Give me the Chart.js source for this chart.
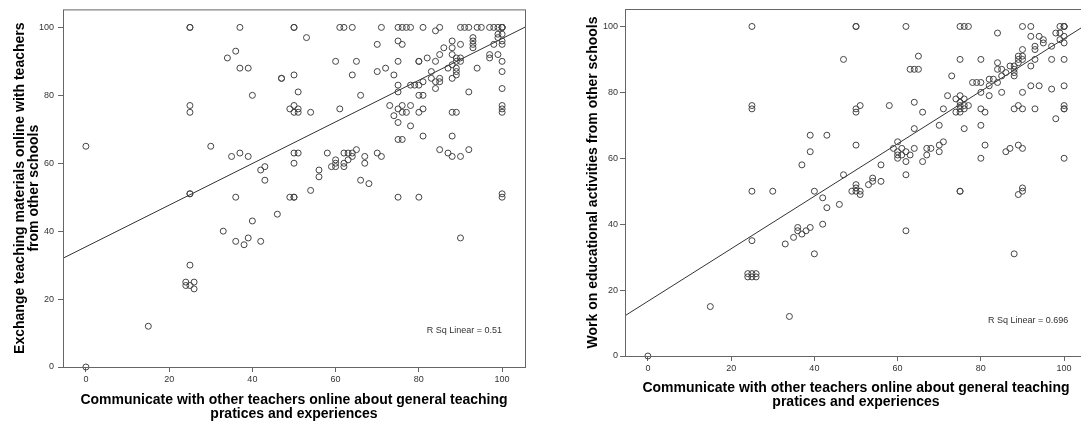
<!DOCTYPE html>
<html>
<head>
  <meta charset="utf-8">
  <title>Communicate vs exchange / work on activities</title>
  <style>
    html, body {
      margin: 0;
      padding: 0;
      background: #fff;
      overflow: hidden;
    }
    body {
      width: 1081px;
      height: 423px;
      position: relative;
    }
    canvas {
      position: absolute;
      top: 0;
    }
    #chartA { left: 0; }
    #chartB { left: 545px; }
  </style>
  <script src="https://cdn.jsdelivr.net/npm/chart.js@4"></script>
</head>
<body>
  <canvas id="chartA" width="545" height="423"></canvas>
  <canvas id="chartB" width="562" height="423"></canvas>

  <script>
    // axis setup
    const xMin = -5.5, xMax = 105.5;
    const yMin = 0, yMax = 105.3;
    const xTicks = [0, 20, 40, 60, 80, 100];
    const yTicks = [0, 20, 40, 60, 80, 100];

    const xTitle = ["Communicate with other teachers online about general teaching", "pratices and experiences"];
    const yTitleA = ["Exchange teaching materials online with teachers", "from other schools"];
    const yTitleB = "Work on educational activities from other schools";

    // left plot: communicate (x) vs exchange materials (y)
    const commA = [
      0, 0, 15,
      25, 25, 25, 25, 25, 25, 25,
      24, 24, 26, 25, 26, 30,
      34, 36, 37, 39, 40, 37,
      35, 37, 39, 36, 33, 36, 38, 39, 40, 42,
      42, 43, 43, 46, 47, 47, 50, 51,
      49, 50, 51, 51, 50, 54, 50, 50, 53,
      50, 51, 50, 49, 50, 50, 54, 56, 56, 58,
      60, 60, 59, 60, 62, 63, 64, 63, 62, 62, 64, 65,
      67, 67, 66, 68, 70, 71,
      60, 65, 64, 70, 72, 74, 66, 61,
      61, 62, 64, 71, 70,
      75, 76, 77, 78, 81, 84, 85, 90, 91, 92, 94, 95, 97, 98, 99, 100, 100, 100, 100,
      75, 76, 88, 88, 90, 86, 85, 88,
      93, 93, 93, 93, 99, 99, 100, 100, 100, 98,
      75, 80, 80, 82, 84, 89, 90, 89, 90,
      87, 88, 89, 89, 89, 88, 94,
      97, 97, 99, 100, 100, 100, 100, 100, 100, 92,
      88, 89, 83, 85, 85, 84, 83, 84, 81, 80, 79, 78, 75, 75,
      80, 81, 73, 74, 75, 76, 76, 78, 77, 75, 78, 80, 81,
      75, 76, 81, 88, 85, 87, 88, 90, 92,
      90, 75, 80, 100, 100
    ];
    const exchA = [
      65, 0, 12,
      100, 100, 77, 75, 51, 51, 30,
      25, 24, 25, 24, 23, 65,
      91, 93, 88, 88, 80, 100,
      62, 63, 62, 50, 40, 37, 36, 38, 43, 37,
      58, 59, 55, 45, 85, 85, 86, 81,
      76, 77, 76, 75, 75, 75, 100, 100, 97,
      63, 63, 60, 50, 50, 50, 52, 58, 56, 63,
      61, 60, 59, 59, 63, 63, 63, 61, 60, 59, 62, 64,
      62, 60, 55, 54, 63, 62,
      90, 90, 86, 87, 88, 86, 80, 76,
      100, 100, 100, 100, 95,
      100, 100, 100, 100, 100, 99, 100, 100, 100, 100, 100, 100, 100, 100, 100, 100, 100, 100, 100,
      96, 95, 96, 94, 95, 94, 92, 92,
      97, 96, 95, 94, 98, 97, 98, 96, 95, 95,
      90, 90, 90, 91, 90, 91, 91, 90, 90,
      88, 89, 88, 87, 86, 85, 88,
      92, 91, 92, 90, 87, 82, 77, 76, 75, 81,
      75, 75, 87, 85, 84, 84, 85, 82, 84, 83, 83, 83, 83, 81,
      80, 80, 77, 74, 76, 77, 75, 77, 75, 72, 71, 75, 76,
      67, 67, 68, 68, 64, 63, 62, 62, 64,
      38, 50, 50, 51, 50
    ];

    // right plot: communicate (x) vs work on activities (y)
    const commB = [
      0, 15, 24, 24, 25, 25, 26, 26, 25,
      25, 30, 25, 25, 25,
      33, 34, 35, 36, 36, 37, 38, 39, 40,
      37, 39, 39, 43, 40, 42, 42, 43, 46,
      47, 47, 50, 49, 50, 51, 50, 51, 50,
      53, 54, 54, 56, 56, 50, 50, 51, 50, 50,
      58, 62, 62, 62,
      59, 60, 60, 60, 60, 61, 61, 62, 62, 63, 64,
      64, 64, 63, 64, 65, 65, 66, 67, 68, 67, 66,
      70, 70, 70, 71, 71, 72, 73,
      74, 75, 76, 75, 75, 76, 75, 77, 75, 74, 76,
      75, 75, 76, 75, 75, 76, 77,
      78, 79, 80, 82, 83, 84, 82, 80, 82, 80, 81,
      80, 80, 81, 80, 84,
      84, 84, 85, 85, 86, 87, 88, 88, 88, 88, 89, 85,
      86, 87, 89, 90, 88, 88, 89, 90, 89, 90, 90,
      90, 90, 89, 90, 89, 90, 90, 92,
      92, 94, 95, 95, 92, 93, 93, 93, 92, 94, 93,
      97, 97, 97, 98, 99, 99, 100, 100,
      99, 100, 100, 100, 100, 100, 100, 100, 100, 98, 100
    ];
    const workB = [
      0, 15, 25, 24, 25, 24, 25, 24, 35,
      50, 50, 75, 76, 100,
      34, 12, 36, 39, 38, 37, 38, 39, 31,
      58, 62, 67, 67, 50, 48, 40, 45, 46,
      55, 90, 64, 50, 51, 50, 50, 49, 52,
      52, 54, 53, 53, 58, 75, 74, 76, 100, 100,
      76, 100, 38, 55,
      63, 65, 62, 61, 60, 63, 61, 62, 59, 61, 63,
      69, 77, 87, 87, 87, 91, 59, 63, 63, 61, 74,
      70, 64, 62, 65, 75, 79, 85,
      78, 79, 78, 77, 76, 76, 75, 76, 74, 74, 75,
      50, 50, 69, 90, 100, 100, 100,
      83, 83, 83, 84, 84, 83, 82, 80, 79, 75, 74,
      70, 60, 64, 90, 98,
      89, 87, 87, 85, 86, 88, 88, 87, 86, 85, 89, 80,
      62, 63, 64, 63, 31, 75, 76, 75, 49, 50, 51,
      93, 91, 91, 90, 90, 80, 100, 100,
      97, 97, 96, 95, 88, 90, 94, 93, 82, 82, 75,
      94, 90, 81, 98, 98, 96, 97, 95,
      100, 100, 100, 100, 90, 82, 76, 75, 75, 72, 60
    ];

    // fitted lines and R squared
    const fitA = { intercept: 35.4, slope: 0.613, rsq: "0.51" };
    const fitB = { intercept: 16.6, slope: 0.797, rsq: "0.696" };

    Chart.defaults.font.family = '"Liberation Sans", Arial, sans-serif';

    // box around the plot area + the R Sq note
    const frame = {
      id: 'frame',
      afterDatasetsDraw(chart, args, opts) {
        const { ctx, chartArea: a, scales: { x, y } } = chart;
        ctx.save();
        ctx.strokeStyle = '#666';
        ctx.lineWidth = 1;
        ctx.strokeRect(a.left + 0.5, a.top + 0.5, a.right - a.left, a.bottom - a.top);
        ctx.fillStyle = '#333';
        ctx.font = '9px "Liberation Sans", Arial, sans-serif';
        ctx.textAlign = 'right';
        ctx.textBaseline = 'middle';
        ctx.fillText('R Sq Linear = ' + opts.rsq, x.getPixelForValue(opts.at[0]), y.getPixelForValue(opts.at[1]));
        ctx.restore();
      }
    };

    function makeChart(id, xs, ys, fit, yTitle, cfg) {
      const pts = xs.map((v, i) => ({ x: v, y: ys[i] }));
      const line = [xMin, xMax].map(v => ({ x: v, y: fit.intercept + fit.slope * v }));

      return new Chart(document.getElementById(id), {
        type: 'scatter',
        data: {
          datasets: [
            {
              data: pts,
              pointRadius: 3,
              pointBorderWidth: 1,
              borderColor: '#444',
              backgroundColor: 'rgba(0,0,0,0)',
              clip: false
            },
            {
              data: line,
              showLine: true,
              pointRadius: 0,
              borderColor: '#333',
              borderWidth: 1
            }
          ]
        },
        options: {
          responsive: false,
          animation: false,
          events: [],
          layout: { padding: { left: 0, top: 9, right: 20, bottom: 0 } },
          plugins: {
            legend: { display: false },
            tooltip: { enabled: false },
            frame: { rsq: fit.rsq, at: cfg.noteAt }
          },
          scales: {
            x: {
              type: 'linear',
              min: xMin,
              max: xMax,
              afterBuildTicks: s => { s.ticks = xTicks.map(v => ({ value: v })); },
              afterFit: s => { s.height = cfg.xHeight; },
              border: { display: false },
              grid: { drawOnChartArea: false, drawTicks: true, tickLength: 5, color: '#666' },
              ticks: { color: '#333', font: { size: 9 }, padding: 2, maxRotation: 0 },
              title: {
                display: true,
                text: xTitle,
                color: '#000',
                font: { size: 14, weight: 'bold', lineHeight: 1 },
                padding: { top: 0, bottom: cfg.xTitlePad }
              }
            },
            y: {
              type: 'linear',
              min: yMin,
              max: yMax,
              afterBuildTicks: s => { s.ticks = yTicks.map(v => ({ value: v })); },
              afterFit: s => { s.width = cfg.yWidth; },
              border: { display: false },
              grid: { drawOnChartArea: false, drawTicks: true, tickLength: 5, color: '#666' },
              ticks: { color: '#333', font: { size: 9 }, padding: cfg.yTickPad },
              title: {
                display: true,
                text: yTitle,
                color: '#000',
                font: { size: 14, weight: 'bold', lineHeight: 1 },
                padding: { top: cfg.yTitlePad, bottom: 0 }
              }
            }
          }
        },
        plugins: [frame]
      });
    }

    makeChart('chartA', commA, exchA, fitA, yTitleA,
      { xHeight: 56, xTitlePad: 2, yWidth: 63, yTitlePad: 13, yTickPad: 4, noteAt: [100, 10.7] });
    makeChart('chartB', commB, workB, fitB, yTitleB,
      { xHeight: 67, xTitlePad: 14, yWidth: 80, yTitlePad: 41, yTickPad: 2, noteAt: [101, 10.7] });
  </script>
</body>
</html>
